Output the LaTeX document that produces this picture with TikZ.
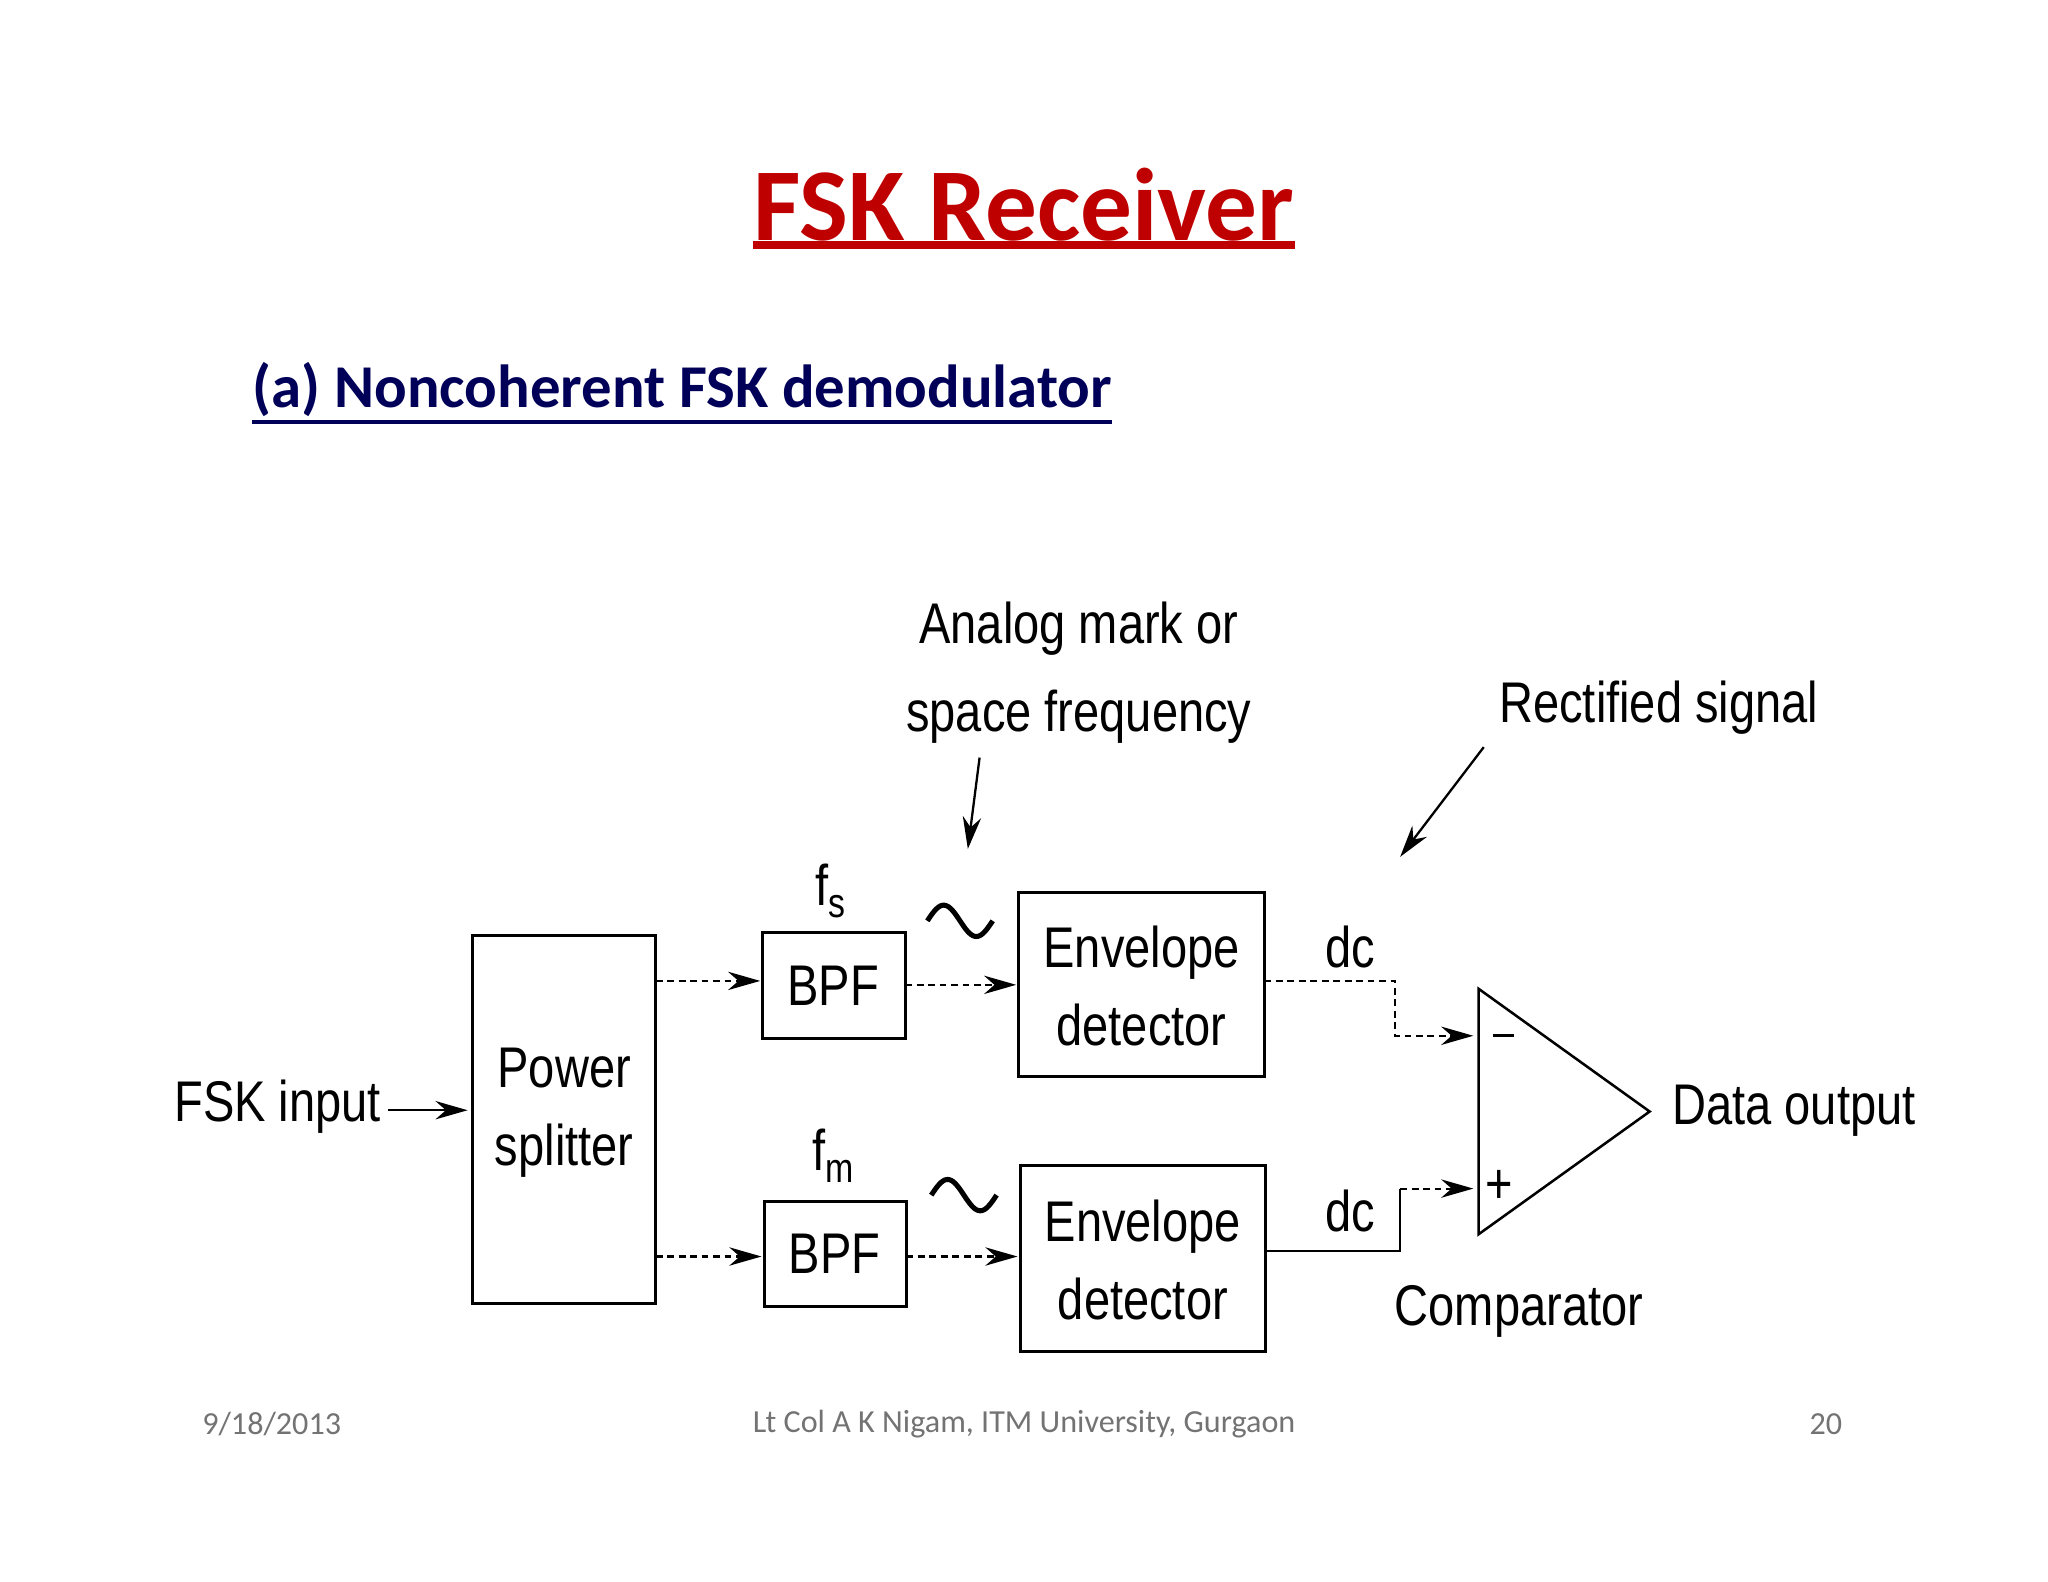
\documentclass[tikz,border=0pt]{standalone}
\usepackage{fontspec}
\setmainfont{Carlito}
\newfontfamily\diag{Liberation Sans}
\usetikzlibrary{arrows.meta}
\newcommand{\nt}[1]{\scalebox{0.82}[1]{#1}}
\begin{document}
\begin{tikzpicture}[x=0.02cm,y=-0.02cm,
  blk/.style={draw,line width=1.3pt,inner sep=0},
  lbl/.style={font=\diag\fontsize{25}{30}\selectfont,align=center,inner sep=0},
  sig/.style={line width=0.9pt,densely dashed},
  tild/.style={line width=2.2pt},
  arr/.style={sig,-{Stealth[length=14pt,width=8pt]}}]
\useasboundingbox (0,0) rectangle (1568,1211);
\node[text=red!75!black,font=\bfseries\fontsize{45}{54}\selectfont,inner xsep=0] (title) at (784,157) {FSK Receiver};
\draw[red!75!black,line width=3.5pt] (title.south west) ++(0,-4) coordinate (tu0) -- (tu0 -| title.south east);
\node[text=blue!35!black,font=\bfseries\fontsize{26.5}{32}\selectfont,anchor=west,inner xsep=0] (sub) at (193,298) {(a) Noncoherent FSK demodulator};
\draw[blue!35!black,line width=2pt] (sub.south west) ++(0,-2) coordinate (su0) -- (su0 -| sub.south east);
% blocks
\draw[blk] (362,716) rectangle (502,998) coordinate (psbr);
\node[lbl] (ps) at (432,852) {\nt{Power}\\[4pt]\nt{splitter}};
\draw[blk] (584,714) rectangle (693,795);
\node[lbl] (bpf1) at (638,755) {\nt{BPF}};
\draw[blk] (585,920) rectangle (694,1000);
\node[lbl] (bpf2) at (639,960) {\nt{BPF}};
\draw[blk] (780,683) rectangle (968,824);
\node[lbl] (env1) at (874,755) {\nt{Envelope}\\[4pt]\nt{detector}};
\draw[blk] (781,892) rectangle (969,1035);
\node[lbl] (env2) at (875,965) {\nt{Envelope}\\[4pt]\nt{detector}};
\draw[line width=1.1pt] (1132,757) coordinate (ct) -- (1263,851) coordinate (ca) -- (1132,945) coordinate (cb) -- cycle;
% labels
\node[lbl,anchor=east] (in) at (292,847) {\nt{FSK input}};
\node[lbl] (fs) at (636,682) {\nt{f\raisebox{-5pt}{\fontsize{18}{20}\selectfont s}}};
\node[lbl] (fm) at (638,885) {\nt{f\raisebox{-5pt}{\fontsize{18}{20}\selectfont m}}};
\draw[tild,domain=0:360,samples=40,variable=\t] plot ({710+\t/7.2},{705-12*sin(\t)});
\draw[tild,domain=0:360,samples=40,variable=\t] plot ({713+\t/7.2},{915-12*sin(\t)});
\node[lbl] (dc1) at (1034,725) {\nt{dc}};
\node[lbl] (dc2) at (1034,927) {\nt{dc}};
\draw[line width=1.5pt] (1143,793) coordinate (m0) -- (1159,793) coordinate (m1);
\node[lbl] (pl) at (1148,909) {\nt{+}};
\node[lbl,anchor=west] (out) at (1280,850) {\nt{Data output}};
\node[lbl] (cmp) at (1163,1004) {\nt{Comparator}};
\node[lbl] (an) at (826,515) {\nt{Analog mark or}\\[8pt]\nt{space frequency}};
\node[lbl] (rs) at (1270,542) {\nt{Rectified signal}};
% connectors
\coordinate (a0) at (297,850); \coordinate (a1) at (358,850);
\draw[line width=0.9pt,-{Stealth[length=14pt,width=8pt]}] (a0) -- (a1);
\coordinate (b0) at (502,751); \coordinate (b1) at (582,751);
\draw[arr] (b0) -- (b1);
\coordinate (b2) at (502,962); \coordinate (b3) at (583,962);
\draw[arr] (b2) -- (b3);
\coordinate (c0) at (693,754); \coordinate (c1) at (778,754);
\draw[arr] (c0) -- (c1);
\coordinate (c2) at (694,962); \coordinate (c3) at (779,962);
\draw[arr] (c2) -- (c3);
\coordinate (d0) at (968,751); \coordinate (d1) at (1128,793);
\draw[arr] (d0) -- (1068,751) -- (1068,793) -- (d1);
\coordinate (e0) at (969,958); \coordinate (e1) at (1128,910);
\draw[line width=0.9pt] (e0) -- (1072,958) -- (1072,910);
\draw[arr] (1072,910) -- (e1);
\coordinate (f0) at (750,580); \coordinate (f1) at (741,650);
\draw[line width=1pt,-{Stealth[length=14pt,width=8pt]}] (f0) -- (f1);
\coordinate (g0) at (1136,572); \coordinate (g1) at (1072,656);
\draw[line width=1pt,-{Stealth[length=14pt,width=8pt]}] (g0) -- (g1);
% footer
\node[text=gray!90!black,font=\fontsize{14}{16}\selectfont] (fl) at (208,1090) {9/18/2013};
\node[text=gray!90!black,font=\fontsize{14}{16}\selectfont] (fc) at (784,1090) {Lt Col A K Nigam, ITM University, Gurgaon};
\node[text=gray!90!black,font=\fontsize{14}{16}\selectfont] (fr) at (1398,1090) {20};
\end{tikzpicture}
\end{document}
